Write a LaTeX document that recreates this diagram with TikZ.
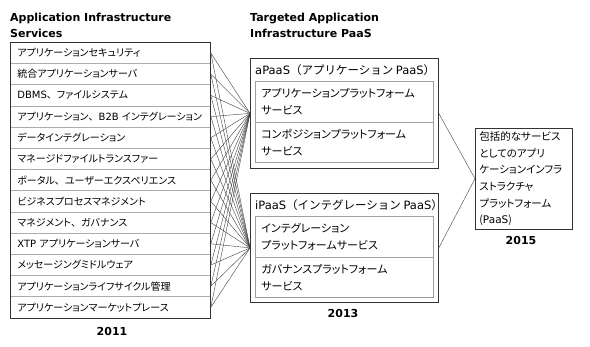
\documentclass[tikz,border=0pt]{standalone}
\usepackage{fontspec}
\setmainfont{Noto Sans CJK JP}[RawFeature=+palt]
\newfontfamily\jpfull{Noto Sans CJK JP}
\newfontfamily\headfont{DejaVu Sans}
\newcommand\lat[1]{{\headfont #1}}
\newcommand\tou{{\jpfull 、}}
\usetikzlibrary{positioning}

\begin{document}
\begin{tikzpicture}[x=1pt, y=-1pt,
    row/.style={draw=gray!65, line width=0.8pt, minimum width=200pt, minimum height=21.2pt, text width=186pt, inner xsep=7pt, inner ysep=0pt, align=left, anchor=north west, font=\fontsize{10}{12}\selectfont},
    pbox/.style={draw=black!80, line width=0.8pt, anchor=north west, minimum width=188pt},
    inbox/.style={draw=gray!75, line width=0.8pt, anchor=north west, minimum width=178pt, text width=166pt, inner xsep=6pt, align=left, font=\fontsize{11}{17}\selectfont},
    phead/.style={anchor=west, inner sep=0pt, font=\jpfull\fontsize{11.5}{12}\selectfont},
    head/.style={anchor=north west, align=left, inner sep=0pt, font=\headfont\bfseries\fontsize{11}{16.5}\selectfont},
    year/.style={inner sep=0pt, font=\headfont\bfseries\fontsize{11}{12}\selectfont},
    link/.style={draw=black!75, line width=0.4pt},
]
    \useasboundingbox (0,0) rectangle (590,347);

    % Application Infrastructure Services
    \node[head] (lhead) at (10,12.5) {Application Infrastructure\\Services};
    \foreach \txt [count=\i] in {アプリケーションセキュリティ, 統合アプリケーションサーバ, \lat{DBMS}\tou ファイルシステム, アプリケーション\tou\lat{B2B} インテグレーション, データインテグレーション, マネージドファイルトランスファー, ポータル\tou ユーザーエクスペリエンス, ビジネスプロセスマネジメント, マネジメント\tou ガバナンス, \lat{XTP} アプリケーションサーバ, メッセージングミドルウェア, アプリケーションライフサイクル管理, アプリケーションマーケットプレース}
        \node[row] (r\i) at (10, {42+(\i-1)*21.2}) {\mbox{\txt}};
    \draw[draw=black!80, line width=0.8pt] (r1.north west) rectangle (r13.south east);
    \node[year] (y2011) at (112,331) {2011};

    % Targeted Application Infrastructure PaaS
    \node[head] (mhead) at (250,12.5) {Targeted Application\\Infrastructure PaaS};

    % aPaaS
    \node[pbox, minimum height=110pt] (apaas) at (250,58) {};
    \node[phead] (apaash) at (255,70) {\lat{aPaaS}（アプリケーション \lat{PaaS}）};
    \node[inbox, minimum height=41pt] (apf) at (255,81) {アプリケーションプラットフォーム\\サービス};
    \node[inbox, minimum height=40pt] (cpf) at (255,122) {コンポジションプラットフォーム\\サービス};

    % iPaaS
    \node[pbox, minimum height=109pt] (ipaas) at (250,193) {};
    \node[phead] (ipaash) at (255,205) {\lat{iPaaS}（インテグレーション \lat{PaaS}）};
    \node[inbox, minimum height=41pt] (ipf) at (255,216) {インテグレーション\\プラットフォームサービス};
    \node[inbox, minimum height=40pt] (gpf) at (255,257) {ガバナンスプラットフォーム\\サービス};
    \node[year] (y2013) at (343,313) {2013};

    % 2015
    \node[draw=black!80, line width=0.8pt, anchor=north west, minimum width=97pt, minimum height=100pt, text width=89pt, inner xsep=4pt, align=left, font=\fontsize{10.5}{16.6}\selectfont] (apip) at (475,128) {包括的なサービス\\としてのアプリ\\ケーションインフラ\\ストラクチャ\\プラットフォーム\\(\lat{PaaS})};
    \node[year] (y2015) at (521,240) {2015};

    % connectors
    \foreach \i in {1,...,13} {
        \draw[link] (r\i.east) -- (apaas.west);
        \draw[link] (r\i.east) -- (ipaas.west);
    }
    \draw[link] (apaas.east) -- (apip.west);
    \draw[link] (ipaas.east) -- (apip.west);
\end{tikzpicture}
\end{document}
